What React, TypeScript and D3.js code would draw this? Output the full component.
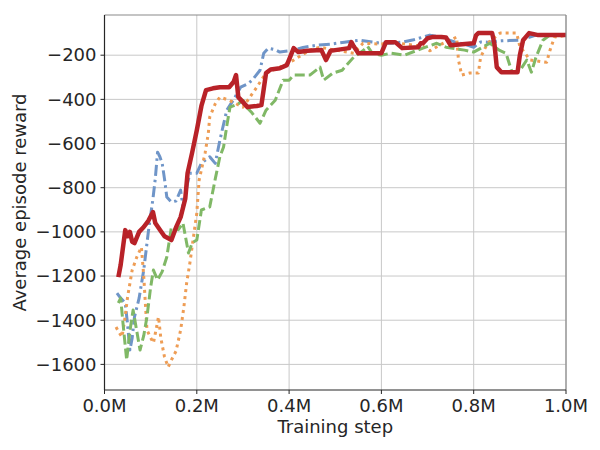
import React, { useEffect, useRef } from 'react';
import * as d3 from 'd3';

// training steps are in millions
const blueSteps = [0.027, 0.035, 0.045, 0.05, 0.055, 0.06, 0.065, 0.075, 0.085, 0.095, 0.105, 0.11, 0.115, 0.12, 0.125, 0.13, 0.135, 0.145, 0.155, 0.165, 0.17, 0.18, 0.185, 0.2, 0.21, 0.228, 0.24, 0.25, 0.265, 0.28, 0.295, 0.31, 0.32, 0.337, 0.345, 0.355, 0.37, 0.38, 0.41, 0.43, 0.46, 0.49, 0.52, 0.553, 0.58, 0.6, 0.62, 0.645, 0.67, 0.705, 0.73, 0.76, 0.78, 0.8, 0.815, 0.83, 0.86, 0.9, 0.935, 1.0];
const blueReward = [-1277, -1300, -1322, -1420, -1535, -1480, -1385, -1300, -1173, -1000, -850, -760, -639, -660, -689, -760, -842, -865, -860, -811, -887, -780, -734, -734, -689, -660, -690, -585, -449, -400, -345, -330, -313, -268, -191, -168, -175, -186, -177, -165, -155, -150, -141, -132, -140, -146, -146, -141, -130, -109, -120, -141, -150, -164, -140, -141, -135, -132, -109, -109];

const orangeSteps = [0.025, 0.03, 0.038, 0.045, 0.05, 0.06, 0.07, 0.08, 0.085, 0.092, 0.1, 0.106, 0.112, 0.117, 0.122, 0.13, 0.138, 0.145, 0.155, 0.165, 0.172, 0.178, 0.185, 0.2, 0.205, 0.218, 0.225, 0.228, 0.24, 0.25, 0.27, 0.3, 0.33, 0.35, 0.38, 0.41, 0.445, 0.467, 0.5, 0.54, 0.56, 0.6, 0.62, 0.69, 0.705, 0.73, 0.763, 0.767, 0.774, 0.79, 0.81, 0.815, 0.83, 0.857, 0.893, 0.9, 0.922, 0.958, 0.965, 0.975, 1.0];
const orangeReward = [-1431, -1450, -1476, -1380, -1295, -1173, -1114, -1069, -1200, -1444, -1480, -1503, -1440, -1385, -1480, -1566, -1612, -1580, -1540, -1444, -1340, -1232, -1141, -915, -766, -643, -553, -480, -420, -390, -404, -435, -345, -281, -254, -222, -177, -164, -177, -191, -146, -150, -141, -160, -180, -150, -118, -222, -290, -281, -281, -209, -146, -100, -100, -160, -222, -232, -180, -118, -110];

const greenSteps = [0.03, 0.035, 0.04, 0.048, 0.055, 0.062, 0.07, 0.077, 0.085, 0.092, 0.1, 0.106, 0.115, 0.125, 0.135, 0.145, 0.16, 0.17, 0.182, 0.19, 0.2, 0.21, 0.228, 0.24, 0.25, 0.258, 0.265, 0.272, 0.29, 0.3, 0.31, 0.32, 0.337, 0.35, 0.37, 0.387, 0.4, 0.41, 0.445, 0.467, 0.475, 0.495, 0.515, 0.54, 0.56, 0.57, 0.58, 0.6, 0.62, 0.65, 0.69, 0.72, 0.74, 0.78, 0.8, 0.835, 0.855, 0.87, 0.883, 0.9, 0.915, 0.925, 0.935, 0.95, 0.965, 1.0];
const greenReward = [-1322, -1300, -1412, -1580, -1450, -1354, -1450, -1535, -1470, -1385, -1250, -1173, -1218, -1180, -1114, -978, -990, -960, -1096, -1050, -1037, -901, -887, -760, -660, -616, -520, -435, -420, -404, -440, -462, -508, -449, -404, -313, -313, -290, -290, -254, -313, -281, -268, -209, -180, -160, -191, -200, -191, -200, -168, -146, -164, -177, -186, -146, -177, -191, -277, -270, -222, -277, -209, -132, -109, -109];

const redSteps = [0.03, 0.035, 0.045, 0.05, 0.055, 0.06, 0.065, 0.075, 0.085, 0.095, 0.105, 0.11, 0.12, 0.13, 0.145, 0.155, 0.165, 0.175, 0.18, 0.19, 0.2, 0.21, 0.22, 0.235, 0.25, 0.27, 0.28, 0.285, 0.29, 0.31, 0.33, 0.34, 0.35, 0.36, 0.38, 0.395, 0.4, 0.41, 0.42, 0.44, 0.47, 0.475, 0.48, 0.49, 0.5, 0.53, 0.535, 0.54, 0.55, 0.6, 0.61, 0.62, 0.63, 0.645, 0.68, 0.685, 0.69, 0.7, 0.71, 0.73, 0.74, 0.75, 0.8, 0.805, 0.81, 0.84, 0.845, 0.85, 0.86, 0.895, 0.9, 0.907, 0.92, 0.94, 1.0];
const redReward = [-1205, -1150, -992, -1020, -1000, -1045, -1051, -1000, -978, -950, -910, -960, -990, -1020, -1037, -980, -933, -850, -734, -640, -540, -430, -358, -350, -345, -345, -320, -290, -390, -435, -430, -426, -281, -265, -259, -245, -220, -168, -186, -180, -177, -200, -222, -180, -177, -168, -141, -160, -191, -191, -141, -141, -141, -168, -164, -146, -146, -123, -118, -118, -120, -155, -146, -110, -100, -100, -150, -254, -277, -277, -200, -132, -100, -109, -109];

const xTicks = [0, 0.2, 0.4, 0.6, 0.8, 1.0];
const yTicks = [-1600, -1400, -1200, -1000, -800, -600, -400, -200];

const series = [
  { steps: blueSteps, reward: blueReward, color: '#6f95c8', width: 3, dash: '11,4,2.5,4' },
  { steps: orangeSteps, reward: orangeReward, color: '#ee9d55', width: 3, dash: '3,4' },
  { steps: greenSteps, reward: greenReward, color: '#80b866', width: 3, dash: '10,4' },
  { steps: redSteps, reward: redReward, color: '#b82228', width: 4.5, dash: null },
];

export default function App() {
  const svgRef = useRef(null);

  useEffect(() => {
    if (!svgRef.current) return;
    const width = 600;
    const height = 450;
    const left = 104.5, right = 566, top = 15, bottom = 390;
    const font = 'DejaVu Sans';
    const ink = '#262626';

    d3.select(svgRef.current).selectAll('*').remove();
    const svg = d3.select(svgRef.current)
      .attr('width', width)
      .attr('height', height);

    svg.append('rect').attr('width', width).attr('height', height).attr('fill', 'white');

    const x = d3.scaleLinear().domain([0, 1]).range([left, right]);
    const y = d3.scaleLinear().domain([-1716, -18]).range([bottom, top]);

    // grid
    svg.append('g').selectAll('line')
      .data(xTicks)
      .enter()
      .append('line')
      .attr('x1', d => x(d)).attr('x2', d => x(d))
      .attr('y1', top).attr('y2', bottom)
      .attr('stroke', '#c8c8c8')
      .attr('stroke-width', 1);
    svg.append('g').selectAll('line')
      .data(yTicks)
      .enter()
      .append('line')
      .attr('x1', left).attr('x2', right)
      .attr('y1', d => y(d)).attr('y2', d => y(d))
      .attr('stroke', '#c8c8c8')
      .attr('stroke-width', 1);

    const line = d3.line<[number, number]>()
      .x(d => x(d[0]))
      .y(d => y(d[1]));

    const plot = svg.append('g');
    series.forEach(s => {
      const pts: [number, number][] = s.steps.map((t, i) => [t, s.reward[i]]);
      plot.append('path')
        .attr('d', line(pts))
        .attr('fill', 'none')
        .attr('stroke', s.color)
        .attr('stroke-width', s.width)
        .attr('stroke-linejoin', 'round')
        .attr('stroke-dasharray', s.dash);
    });

    // spines
    svg.append('line').attr('x1', left).attr('x2', right).attr('y1', top).attr('y2', top)
      .attr('stroke', '#8a8a8a').attr('stroke-width', 1.2);
    svg.append('line').attr('x1', right).attr('x2', right).attr('y1', top).attr('y2', bottom)
      .attr('stroke', '#8a8a8a').attr('stroke-width', 1.2);
    svg.append('line').attr('x1', left).attr('x2', left).attr('y1', top).attr('y2', bottom)
      .attr('stroke', ink).attr('stroke-width', 1.2);
    svg.append('line').attr('x1', left).attr('x2', right).attr('y1', bottom).attr('y2', bottom)
      .attr('stroke', ink).attr('stroke-width', 1.2);

    // ticks + labels
    const xAxis = svg.append('g');
    xTicks.forEach(t => {
      xAxis.append('line').attr('x1', x(t)).attr('x2', x(t)).attr('y1', bottom).attr('y2', bottom + 4)
        .attr('stroke', ink).attr('stroke-width', 1);
      xAxis.append('text')
        .attr('x', x(t)).attr('y', bottom + 22)
        .attr('text-anchor', 'middle')
        .style('font-family', font).style('font-size', '18px').style('fill', ink)
        .text(`${t.toFixed(1)}M`);
    });
    const yAxis = svg.append('g');
    yTicks.forEach(t => {
      yAxis.append('line').attr('x1', left - 4).attr('x2', left).attr('y1', y(t)).attr('y2', y(t))
        .attr('stroke', ink).attr('stroke-width', 1);
      yAxis.append('text')
        .attr('x', left - 8).attr('y', y(t)).attr('dy', '0.35em')
        .attr('text-anchor', 'end')
        .style('font-family', font).style('font-size', '18px').style('fill', ink)
        .text(`\u2212${Math.abs(t)}`);
    });

    svg.append('text')
      .attr('x', (left + right) / 2).attr('y', 433)
      .attr('text-anchor', 'middle')
      .style('font-family', font).style('font-size', '18px').style('fill', ink)
      .text('Training step');

    svg.append('text')
      .attr('transform', `translate(26,${(top + bottom) / 2}) rotate(-90)`)
      .attr('text-anchor', 'middle')
      .style('font-family', font).style('font-size', '18px').style('fill', ink)
      .text('Average episode reward');
  }, []);

  return (
    <div style={{ position: 'absolute', left: 0, top: 0 }}>
      <svg ref={svgRef} style={{ display: 'block' }}></svg>
    </div>
  );
}
